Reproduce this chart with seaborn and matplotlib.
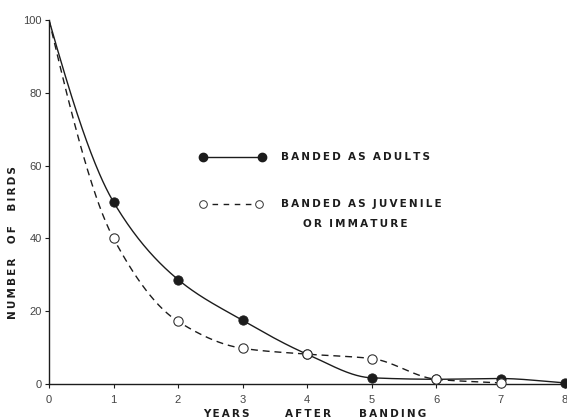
import numpy as np
import pandas as pd
import matplotlib
matplotlib.use("Agg")
import matplotlib.pyplot as plt
import seaborn as sns

# Survival of banded birds, years after banding
years_adult = [0, 1, 2, 3, 4, 5, 6, 7, 8]
adults = [100, 50, 28.7, 17.5, 8.2, 1.7, 1.3, 1.5, 0.3]
years_juv = [0, 1, 2, 3, 4, 5, 6, 7]
juveniles = [100, 40, 17.2, 9.8, 8.2, 7.0, 1.3, 0.3]
x_ticks = [0, 1, 2, 3, 4, 5, 6, 7, 8]
y_ticks = [0, 20, 40, 60, 80, 100]

label_adults = "BANDED AS ADULTS"
label_juv = ["BANDED AS JUVENILE", "OR IMMATURE"]
x_label_words = ["YEARS", "AFTER", "BANDING"]
y_label = "NUMBER OF BIRDS"


def hermite_curve(x, y, n=60, start_steepness=1.25):
    """Monotone cubic curve through the points."""
    x = np.asarray(x, float)
    y = np.asarray(y, float)
    h = np.diff(x)
    delta = np.diff(y) / h
    d = np.zeros_like(y)
    for k in range(1, len(x) - 1):
        if delta[k - 1] * delta[k] > 0:
            w1 = 2 * h[k] + h[k - 1]
            w2 = h[k] + 2 * h[k - 1]
            d[k] = (w1 + w2) / (w1 / delta[k - 1] + w2 / delta[k])
    d[0] = start_steepness * delta[0]
    d[-1] = delta[-1]
    xs, ys = [], []
    for k in range(len(x) - 1):
        t = np.linspace(0, 1, n, endpoint=(k == len(x) - 2))
        h00 = 2 * t**3 - 3 * t**2 + 1
        h10 = t**3 - 2 * t**2 + t
        h01 = -2 * t**3 + 3 * t**2
        h11 = t**3 - t**2
        xs.append(x[k] + t * h[k])
        ys.append(h00 * y[k] + h10 * h[k] * d[k] + h01 * y[k + 1] + h11 * h[k] * d[k + 1])
    return np.concatenate(xs), np.concatenate(ys)


def spaced(text, gap="\u2009", word_gap="  "):
    return word_gap.join(gap.join(word) for word in text.split(" "))


sns.set_style("white")
plt.rcParams["font.family"] = ["DejaVu Sans"]

fig = plt.figure(figsize=(5.67, 4.2), dpi=100)
ax = fig.add_axes([49 / 567, 36 / 420, 518 / 567, 364 / 420])

ink = "#1c1c1c"

ax_x, ax_y = hermite_curve(years_adult, adults)
jv_x, jv_y = hermite_curve(years_juv, juveniles)
curves = pd.DataFrame({"x": ax_x, "y": ax_y})
curves_j = pd.DataFrame({"x": jv_x, "y": jv_y})

sns.lineplot(data=curves, x="x", y="y", ax=ax, color=ink, lw=1.0,
             estimator=None, sort=False)
sns.lineplot(data=curves_j, x="x", y="y", ax=ax, color=ink, lw=1.0,
             estimator=None, sort=False, linestyle=(0, (5, 3.5)))

pts_a = pd.DataFrame({"x": years_adult[1:], "y": adults[1:]})
pts_j = pd.DataFrame({"x": years_juv[1:], "y": juveniles[1:]})
sns.scatterplot(data=pts_a, x="x", y="y", ax=ax, s=45, color=ink,
                edgecolor=ink, linewidth=0.6, zorder=4, clip_on=False)
sns.scatterplot(data=pts_j, x="x", y="y", ax=ax, s=45, color="white",
                edgecolor="#333333", linewidth=0.8, zorder=5, clip_on=False)

ax.set_xlim(0, 8.03)
ax.set_ylim(0, 100)
ax.set_xticks(x_ticks)
ax.set_yticks(y_ticks)
ax.set_xticklabels([str(v) for v in x_ticks])
ax.set_yticklabels([str(v) for v in y_ticks])
for lab in ax.get_xticklabels() + ax.get_yticklabels():
    lab.set_fontfamily("Liberation Sans")
    lab.set_fontsize(8)
    lab.set_color("#444444")
ax.tick_params(axis="both", direction="out", length=3, width=0.8,
               color=ink, pad=2, bottom=True, left=True)
ax.tick_params(axis="x", pad=5)

for side in ("top", "right"):
    ax.spines[side].set_visible(False)
for side in ("left", "bottom"):
    ax.spines[side].set_color(ink)
    ax.spines[side].set_linewidth(1.0)

label_font = dict(fontsize=7.5, fontweight="bold", color=ink)
ax.set_xlabel("")
ax.set_ylabel("")
for word, px in zip(x_label_words, [226, 308, 393]):
    fig.text(px / 567, 1 - 414 / 420, spaced(word), ha="center",
             va="center", **label_font)
fig.text(13 / 567, 1 - 243 / 420, spaced(y_label, word_gap="    "),
         ha="center", va="center", rotation=90, **label_font)

# Key
tr = ax.transAxes
ax.plot([0.297, 0.412], [0.624, 0.624], color=ink, lw=1.0, transform=tr)
ax.plot([0.297, 0.412], [0.624, 0.624], ls="none", marker="o", ms=6,
        mfc=ink, mec=ink, transform=tr)
ax.text(0.447, 0.624, spaced(label_adults), transform=tr, ha="left",
        va="center", **label_font)
ax.plot([0.297, 0.406], [0.495, 0.495], color=ink, lw=1.0,
        ls=(1.5, (4, 4)), transform=tr)
ax.plot([0.297, 0.406], [0.495, 0.495], ls="none", marker="o", ms=5.5,
        mfc="white", mec="#333333", mew=0.7, transform=tr)
ax.text(0.447, 0.495, spaced(label_juv[0]), transform=tr, ha="left",
        va="center", **label_font)
ax.text(0.592, 0.439, spaced(label_juv[1]), transform=tr, ha="center",
        va="center", **label_font)

fig.savefig("out.png", dpi=100)
